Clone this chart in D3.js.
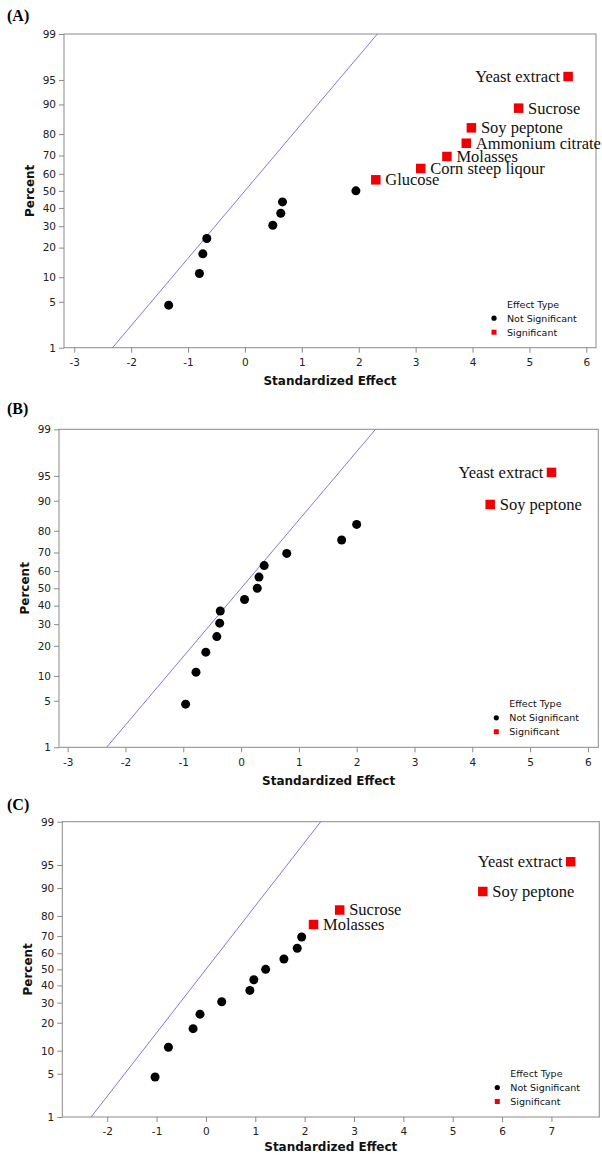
<!DOCTYPE html>
<html>
<head>
<meta charset="utf-8">
<script src="https://cdn.jsdelivr.net/npm/d3@7"></script>
<style>
  html, body { margin: 0; padding: 0; background: #fff; }
  svg { display: block; }
</style>
</head>
<body>
<svg id="chart" width="602" height="1155"></svg>
<script>
// ---------------- data ----------------
const percentTicks = [1, 5, 10, 20, 30, 40, 50, 60, 70, 80, 90, 95, 99];
const xTicksAB = [-3, -2, -1, 0, 1, 2, 3, 4, 5, 6];
const xTicksC = [-2, -1, 0, 1, 2, 3, 4, 5, 6, 7];

const percentA = [4.5, 11.0, 17.5, 24.0, 30.5, 37.0, 43.5, 50.0, 56.5, 63.0, 69.5, 76.0, 82.5, 89.0, 95.5];
const effectA = [-1.34, -0.80, -0.74, -0.67, 0.49, 0.63, 0.66, 1.95, 2.30, 3.09, 3.55, 3.89, 3.98, 4.81, 5.68];
const sigA = [0, 0, 0, 0, 0, 0, 0, 0, 1, 1, 1, 1, 1, 1, 1];
const labelA = ["", "", "", "", "", "", "", "", "Glucose", "Corn steep liqour", "Molasses", "Ammonium citrate", "Soy peptone", "Sucrose", "Yeast extract"];

const percentB = [4.5, 11.0, 17.5, 24.0, 30.5, 37.0, 43.5, 50.0, 56.5, 63.0, 69.5, 76.0, 82.5, 89.0, 95.5];
const effectB = [-0.96, -0.78, -0.61, -0.42, -0.37, -0.36, 0.06, 0.28, 0.31, 0.40, 0.79, 1.74, 2.00, 4.31, 5.37];
const sigB = [0, 0, 0, 0, 0, 0, 0, 0, 0, 0, 0, 0, 0, 1, 1];
const labelB = ["", "", "", "", "", "", "", "", "", "", "", "", "", "Soy peptone", "Yeast extract"];

const percentC = [4.5, 11.0, 17.5, 24.0, 30.5, 37.0, 43.5, 50.0, 56.5, 63.0, 69.5, 76.0, 82.5, 89.0, 95.5];
const effectC = [-1.03, -0.76, -0.26, -0.12, 0.32, 0.89, 0.97, 1.21, 1.58, 1.85, 1.94, 2.18, 2.71, 5.61, 7.39];
const sigC = [0, 0, 0, 0, 0, 0, 0, 0, 0, 0, 0, 1, 1, 1, 1];
const labelC = ["", "", "", "", "", "", "", "", "", "", "", "Molasses", "Sucrose", "Soy peptone", "Yeast extract"];

const panelTitles = ["(A)", "(B)", "(C)"];
const legendTitle = "Effect Type";
const legendItems = ["Not Significant", "Significant"];
const xTitle = "Standardized Effect";
const yTitle = "Percent";

// ---------------- helpers ----------------
// inverse standard normal CDF (Acklam)
function probit(p) {
  const a = [-3.969683028665376e+01, 2.209460984245205e+02, -2.759285104469687e+02, 1.383577518672690e+02, -3.066479806614716e+01, 2.506628277459239e+00];
  const b = [-5.447609879822406e+01, 1.615858368580409e+02, -1.556989798598866e+02, 6.680131188771972e+01, -1.328068155288572e+01];
  const c = [-7.784894002430293e-03, -3.223964580411365e-01, -2.400758277161838e+00, -2.549732539343734e+00, 4.374664141464968e+00, 2.938163982698783e+00];
  const d = [7.784695709041462e-03, 3.224671290700398e-01, 2.445134137142996e+00, 3.754408661907416e+00];
  const pl = 0.02425, ph = 1 - pl;
  let q, r;
  if (p < pl) {
    q = Math.sqrt(-2 * Math.log(p));
    return (((((c[0]*q+c[1])*q+c[2])*q+c[3])*q+c[4])*q+c[5]) / ((((d[0]*q+d[1])*q+d[2])*q+d[3])*q+1);
  } else if (p <= ph) {
    q = p - 0.5; r = q * q;
    return (((((a[0]*r+a[1])*r+a[2])*r+a[3])*r+a[4])*r+a[5])*q / (((((b[0]*r+b[1])*r+b[2])*r+b[3])*r+b[4])*r+1);
  } else {
    q = Math.sqrt(-2 * Math.log(1 - p));
    return -(((((c[0]*q+c[1])*q+c[2])*q+c[3])*q+c[4])*q+c[5]) / ((((d[0]*q+d[1])*q+d[2])*q+d[3])*q+1);
  }
}

const svg = d3.select("#chart");
const sansFont = "'DejaVu Sans', Verdana, sans-serif";
const serifFont = "'Liberation Serif', 'Times New Roman', serif";
const frameColor = "#8a8a8a";
const red = "#f00000";
const lineColor = "#7468d8";

const panels = [
  { title: panelTitles[0], effect: effectA, percent: percentA, sig: sigA, label: labelA, xTicks: xTicksAB,
    box: { left: 64, top: 34, right: 596, bottom: 347.7 }, xDomain: [-3.18, 6.17], titleY: 20.5, xTitleGap: 37.5 },
  { title: panelTitles[1], effect: effectB, percent: percentB, sig: sigB, label: labelB, xTicks: xTicksAB,
    box: { left: 59, top: 429.3, right: 598.3, bottom: 747.3 }, xDomain: [-3.15, 6.18], titleY: 414, xTitleGap: 37.5 },
  { title: panelTitles[2], effect: effectC, percent: percentC, sig: sigC, label: labelC, xTicks: xTicksC,
    box: { left: 62.3, top: 821.7, right: 599.3, bottom: 1117 }, xDomain: [-2.91, 7.97], titleY: 810, xTitleGap: 34 }
];

const zLo = probit(0.01), zHi = probit(0.99);

panels.forEach((P, pi) => {
  const bx = P.box;
  const g = svg.append("g");
  const x = d3.scaleLinear().domain(P.xDomain).range([bx.left, bx.right]);
  const y = d3.scaleLinear().domain([zLo, zHi]).range([bx.bottom, bx.top]);

  // panel title
  g.append("text").attr("x", 7).attr("y", P.titleY)
    .attr("font-family", serifFont).attr("font-weight", "bold").attr("font-size", 16)
    .attr("fill", "#000").text(P.title);

  // clip
  const clipId = "clip" + pi;
  svg.append("clipPath").attr("id", clipId).append("rect")
    .attr("x", bx.left).attr("y", bx.top).attr("width", bx.right - bx.left).attr("height", bx.bottom - bx.top);

  // axes
  const yAxis = d3.axisLeft(y)
    .tickValues(percentTicks.map(p => probit(p / 100)))
    .tickFormat((d, i) => String(percentTicks[i]))
    .tickSize(5).tickPadding(3);
  const ya = g.append("g").attr("transform", `translate(${bx.left},0)`).call(yAxis);
  const xAxis = d3.axisBottom(x).tickValues(P.xTicks).tickFormat(d => String(d)).tickSize(5).tickPadding(6);
  const xa = g.append("g").attr("transform", `translate(0,${bx.bottom})`).call(xAxis);
  [ya, xa].forEach(a => {
    a.select(".domain").remove();
    a.selectAll(".tick line").attr("stroke", frameColor);
    a.selectAll(".tick text").attr("fill", "#222").attr("font-family", sansFont).attr("font-size", 10.5);
  });

  // frame
  g.append("rect").attr("x", bx.left).attr("y", bx.top)
    .attr("width", bx.right - bx.left).attr("height", bx.bottom - bx.top)
    .attr("fill", "none").attr("stroke", frameColor).attr("stroke-width", 1);

  // reference normal line
  const refLine = d3.line().x(d => x(d)).y(d => y(d));
  g.append("path").attr("clip-path", `url(#${clipId})`)
    .attr("d", refLine([zLo, zHi])).attr("fill", "none")
    .attr("stroke", lineColor).attr("stroke-width", 0.9);

  // axis titles
  g.append("text").attr("x", (bx.left + bx.right) / 2).attr("y", bx.bottom + P.xTitleGap)
    .attr("text-anchor", "middle").attr("font-family", sansFont).attr("font-weight", "bold")
    .attr("font-size", 12).attr("fill", "#111").text(xTitle);
  const ymid = y(0);
  g.append("text").attr("transform", `translate(${bx.left - 30.5},${ymid}) rotate(-90)`)
    .attr("text-anchor", "middle").attr("font-family", sansFont).attr("font-weight", "bold")
    .attr("font-size", 12).attr("fill", "#111").text(yTitle);

  // points
  const pts = P.effect.map((e, i) => ({ e, p: P.percent[i], s: P.sig[i], l: P.label[i] }));
  const sq = 9.5;
  g.selectAll("circle.pt").data(pts.filter(d => !d.s)).join("circle").attr("class", "pt")
    .attr("cx", d => x(d.e)).attr("cy", d => y(probit(d.p / 100))).attr("r", 4.5).attr("fill", "#000");
  g.selectAll("rect.pt").data(pts.filter(d => d.s)).join("rect").attr("class", "pt")
    .attr("x", d => x(d.e) - sq / 2).attr("y", d => y(probit(d.p / 100)) - sq / 2)
    .attr("width", sq).attr("height", sq).attr("fill", red);
  g.selectAll("text.lab").data(pts.filter(d => d.l)).join("text").attr("class", "lab")
    .attr("x", d => d.l === "Yeast extract" ? x(d.e) - 8 : x(d.e) + 9.5)
    .attr("y", d => y(probit(d.p / 100)))
    .attr("dy", "0.33em")
    .attr("text-anchor", d => d.l === "Yeast extract" ? "end" : "start")
    .attr("font-family", serifFont).attr("font-size", 16.5).attr("fill", "#111")
    .text(d => d.l);

  // legend
  const lx = bx.right - 89, mx = bx.right - 102;
  const lg = g.append("g").attr("font-family", sansFont).attr("font-size", 9.5).attr("fill", "#111");
  lg.append("text").attr("x", lx).attr("y", bx.bottom - 40).text(legendTitle);
  lg.append("text").attr("x", lx).attr("y", bx.bottom - 26).text(legendItems[0]);
  lg.append("text").attr("x", lx).attr("y", bx.bottom - 12).text(legendItems[1]);
  lg.append("circle").attr("cx", mx).attr("cy", bx.bottom - 29.5).attr("r", 2.6).attr("fill", "#000");
  lg.append("rect").attr("x", mx - 2.5).attr("y", bx.bottom - 18).attr("width", 5).attr("height", 5).attr("fill", red);
});
</script>
</body>
</html>
